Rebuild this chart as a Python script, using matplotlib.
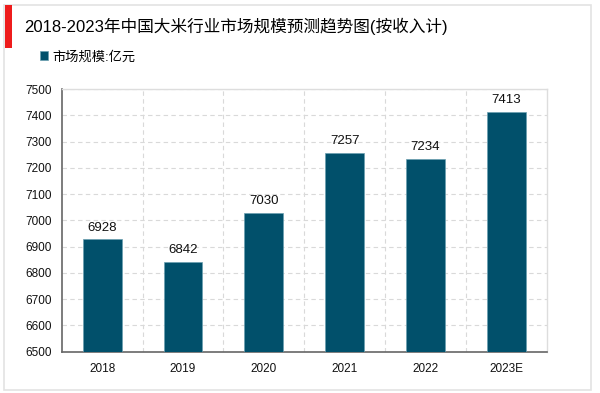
import matplotlib.pyplot as plt
from matplotlib.patches import Rectangle

plt.rcParams["font.family"] = ["Liberation Sans", "Noto Sans CJK SC", "DejaVu Sans"]

years = ["2018", "2019", "2020", "2021", "2022", "2023E"]
market_size = [6928, 6842, 7030, 7257, 7234, 7413]
y_ticks = list(range(6500, 7501, 100))

title = "2018-2023年中国大米行业市场规模预测趋势图(按收入计)"
legend_label = "市场规模:亿元"
bar_color = "#01506b"

fig = plt.figure(figsize=(6, 3.93), dpi=100)

# outer frame and red marker
fig.patches.append(Rectangle((0.007, 0.008), 0.978, 0.98, transform=fig.transFigure,
                             fill=False, edgecolor="#e3e3e3", linewidth=1.2))
fig.patches.append(Rectangle((0.008, 0.877), 0.012, 0.11, transform=fig.transFigure,
                             facecolor="#ee1c1c", edgecolor="none"))
fig.text(0.041, 0.932, title, fontsize=12, va="center", ha="left",
         family=["Liberation Sans", "Noto Sans CJK SC"])

ax = fig.add_axes([0.103, 0.105, 0.808, 0.668])
x = range(len(years))
bars = ax.bar(x, market_size, width=0.48, color=bar_color, edgecolor="#6a9fb0",
              linewidth=0.5, label=legend_label, zorder=3)

for xi, v in zip(x, market_size):
    ax.text(xi, v + 22, str(v), ha="center", va="bottom", fontsize=9.5, color="#111111")

ax.set_xlim(-0.5, len(years) - 0.5)
ax.set_ylim(6500, 7500)
ax.set_yticks(y_ticks)
ax.set_xticks(list(x))
ax.set_xticklabels(years)
ax.set_xticks([i + 0.5 for i in range(len(years) - 1)], minor=True)
ax.tick_params(axis="both", which="both", length=0, labelsize=8.5, colors="#111111")
ax.tick_params(axis="x", pad=8)
ax.tick_params(axis="y", pad=7)

ax.grid(axis="y", which="major", linestyle=(0, (4, 3)), color="#d9d9d9", linewidth=0.8, zorder=0)
ax.grid(axis="x", which="minor", linestyle=(0, (4, 3)), color="#d9d9d9", linewidth=0.8, zorder=0)

for side in ["left", "bottom"]:
    ax.spines[side].set_color("#666666")
    ax.spines[side].set_linewidth(1.2)
for side in ["top", "right"]:
    ax.spines[side].set_color("#dddddd")
    ax.spines[side].set_linewidth(1.0)

leg = fig.legend(handles=[bars], labels=[legend_label], loc="center left",
                 bbox_to_anchor=(0.047, 0.855), frameon=False,
                 handlelength=0.6, handleheight=0.6, handletextpad=0.3,
                 prop={"family": ["Liberation Sans", "Noto Sans CJK SC"], "size": 9.5})

fig.savefig("out.png", dpi=100)
